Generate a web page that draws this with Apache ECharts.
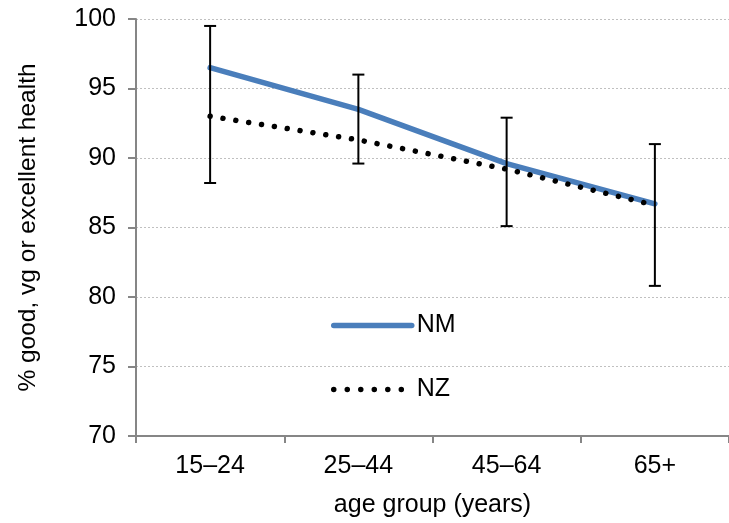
<!DOCTYPE html>
<html>
<head>
<meta charset="utf-8">
<script src="https://cdn.jsdelivr.net/npm/echarts@6/dist/echarts.min.js"></script>
<style>html,body{margin:0;padding:0;background:#fff;}#c{width:729px;height:523px;}</style>
</head>
<body>
<div id="c"></div>
<script>
const categories = ['15–24', '25–44', '45–64', '65+'];
const nmValues = [96.5, 93.5, 89.6, 86.7];
const nzValues = [93.0, 91.3, 89.2, 86.6];
const errLow = [88.2, 89.6, 85.1, 80.8];
const errHigh = [99.5, 96.0, 92.9, 91.0];
const yTicks = [70, 75, 80, 85, 90, 95, 100];

const FONT = 'Liberation Sans, Arial, sans-serif';
const FS = 25;
const chart = echarts.init(document.getElementById('c'), null, {renderer: 'canvas'});
const errData = categories.map((c, i) => [i, errLow[i], errHigh[i]]);

chart.setOption({
  animation: false,
  backgroundColor: '#fff',
  grid: {left: 136, right: 0, top: 19, bottom: 84, containLabel: false},
  legend: {
    orient: 'vertical',
    left: 326,
    top: 308,
    itemWidth: 78,
    itemHeight: 14,
    itemGap: 39,
    data: [
      {name: 'NM', lineStyle: {color: '#4A7EBB', width: 5.5, cap: 'round'}},
      {name: 'NZ', lineStyle: {color: '#000', width: 5.5, type: [0.01, 13.5], cap: 'round'}}
    ],
    itemStyle: {opacity: 0},
    textStyle: {fontFamily: FONT, fontSize: FS, color: '#000'}
  },
  xAxis: {
    type: 'category',
    data: categories,
    boundaryGap: true,
    name: 'age group (years)',
    nameLocation: 'middle',
    nameGap: 57,
    nameTextStyle: {fontFamily: FONT, fontSize: FS, color: '#000'},
    axisLine: {lineStyle: {color: '#868686', width: 2}},
    axisTick: {show: true, length: 7, lineStyle: {color: '#868686', width: 2}},
    axisLabel: {fontFamily: FONT, fontSize: FS, color: '#000', margin: 18},
    splitLine: {show: false}
  },
  yAxis: {
    type: 'value',
    min: 70,
    max: 100,
    interval: 5,
    name: '% good, vg or excellent health',
    nameLocation: 'middle',
    nameGap: 95,
    nameTextStyle: {fontFamily: FONT, fontSize: 24.5, color: '#000', padding: [0, 0, 0, 0]},
    axisLine: {show: true, lineStyle: {color: '#868686', width: 2}},
    axisTick: {show: true, length: 8, lineStyle: {color: '#868686', width: 2}},
    axisLabel: {fontFamily: FONT, fontSize: FS, color: '#000', margin: 20,
      formatter: v => yTicks.includes(v) ? String(v) : ''},
    splitLine: {show: true, lineStyle: {color: '#c0c0c0', width: 1, type: [2, 2]}}
  },
  series: [
    {
      name: 'NM',
      type: 'line',
      data: nmValues,
      symbol: 'none',
      color: '#4A7EBB',
      itemStyle: {color: '#4A7EBB'},
      lineStyle: {color: '#4A7EBB', width: 5.5, cap: 'round'},
      z: 3
    },
    {
      name: 'NZ',
      type: 'line',
      data: nzValues,
      symbol: 'none',
      color: '#000',
      itemStyle: {color: '#000'},
      lineStyle: {color: '#000', width: 5.5, type: [0.01, 13], cap: 'round'},
      z: 4
    },
    {
      name: 'err',
      type: 'custom',
      data: errData,
      z: 5,
      renderItem: function (params, api) {
        const x = api.value(0);
        const lo = api.coord([x, api.value(1)]);
        const hi = api.coord([x, api.value(2)]);
        const hw = 6;
        const st = {stroke: '#000', lineWidth: 2};
        return {
          type: 'group',
          children: [
            {type: 'line', shape: {x1: lo[0], y1: lo[1], x2: hi[0], y2: hi[1]}, style: st},
            {type: 'line', shape: {x1: lo[0] - hw, y1: lo[1], x2: lo[0] + hw, y2: lo[1]}, style: st},
            {type: 'line', shape: {x1: hi[0] - hw, y1: hi[1], x2: hi[0] + hw, y2: hi[1]}, style: st}
          ]
        };
      }
    }
  ]
});
</script>
</body>
</html>
